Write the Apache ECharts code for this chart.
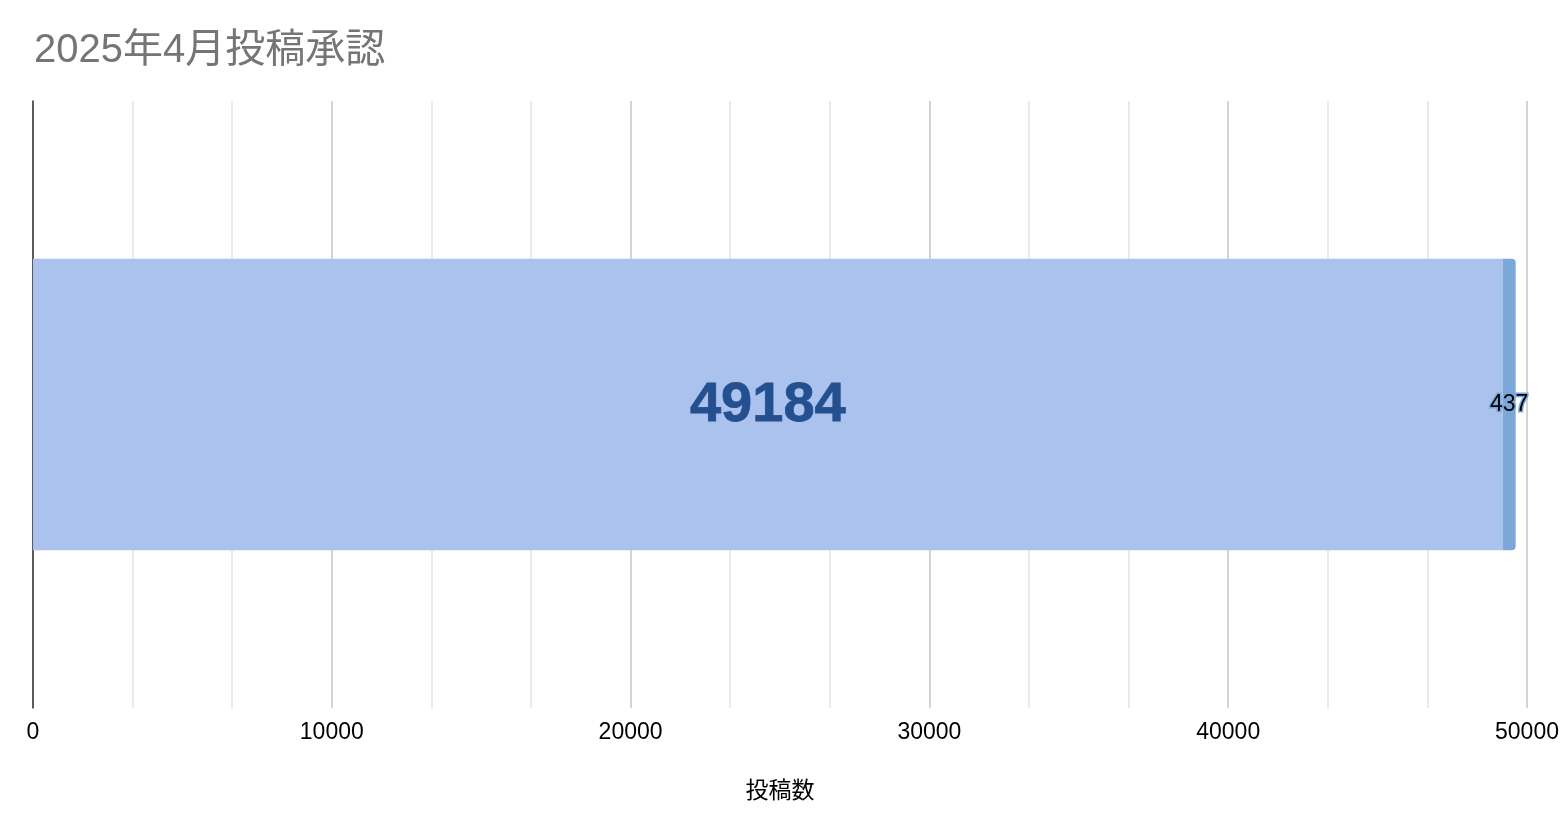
<!DOCTYPE html>
<html>
<head>
<meta charset="utf-8">
<script src="https://cdn.jsdelivr.net/npm/echarts@6/dist/echarts.min.js"></script>
<style>
html,body{margin:0;padding:0;background:#fff;}
#chart{width:1566px;height:830px;}
</style>
</head>
<body>
<div id="chart"></div>
<script>
const titleText = '2025年4月投稿承認';
const categories = ['2025年4月'];
const approvedName = '承認';
const approvedValues = [49184];
const otherName = '未承認';
const otherValues = [437];
const axisName = '投稿数';
const axisMin = 0;
const axisMax = 50000;
const axisInterval = 10000;

const chart = echarts.init(document.getElementById('chart'));
chart.setOption({
  animation: false,
  backgroundColor: '#ffffff',
  title: {
    text: titleText,
    left: 29,
    top: 26,
    textStyle: {color: '#757575', fontSize: 40, fontWeight: 'normal', fontFamily: '"Liberation Sans", "Noto Sans CJK JP"'}
  },
  grid: {left: 33, right: 39, top: 101, bottom: 122, containLabel: false},
  xAxis: {
    type: 'value',
    min: axisMin, max: axisMax, interval: axisInterval,
    name: axisName,
    nameLocation: 'middle',
    nameGap: 70,
    nameTextStyle: {color: '#000', fontSize: 23, fontFamily: 'Noto Sans CJK JP'},
    axisLine: {show: false},
    axisTick: {show: false},
    axisLabel: {color: '#000', fontSize: 23, margin: 13, fontFamily: 'Liberation Sans', formatter: v => String(v)},
    splitLine: {show: true, lineStyle: {color: '#c6c6c6', width: 1.5}},
    minorTick: {show: false, splitNumber: 3},
    minorSplitLine: {show: true, lineStyle: {color: '#e3e3e3', width: 1.5}}
  },
  yAxis: {
    type: 'category',
    data: categories,
    axisLine: {show: true, lineStyle: {color: '#333333', width: 1.5}},
    axisTick: {show: false},
    axisLabel: {show: false},
    splitLine: {show: false}
  },
  series: [
    {
      name: approvedName,
      type: 'bar',
      stack: 'total',
      data: approvedValues,
      barWidth: '48%',
      itemStyle: {color: '#abc1ee'},
      label: {
        show: true, position: 'inside', offset: [0, 1],
        color: '#24508f', fontSize: 56, fontWeight: 'bold', fontFamily: 'Liberation Sans',
        textBorderColor: '#24508f', textBorderWidth: 0.8
      }
    },
    {
      name: otherName,
      type: 'bar',
      stack: 'total',
      data: otherValues,
      barWidth: '48%',
      itemStyle: {color: '#7ba7d9', borderRadius: [0, 4, 4, 0]},
      label: {
        show: true, position: 'inside', offset: [0, 0],
        color: '#000', fontSize: 23, fontFamily: 'Liberation Sans',
        textBorderColor: '#7ba7d9', textBorderWidth: 3
      }
    }
  ]
});
</script>
</body>
</html>
